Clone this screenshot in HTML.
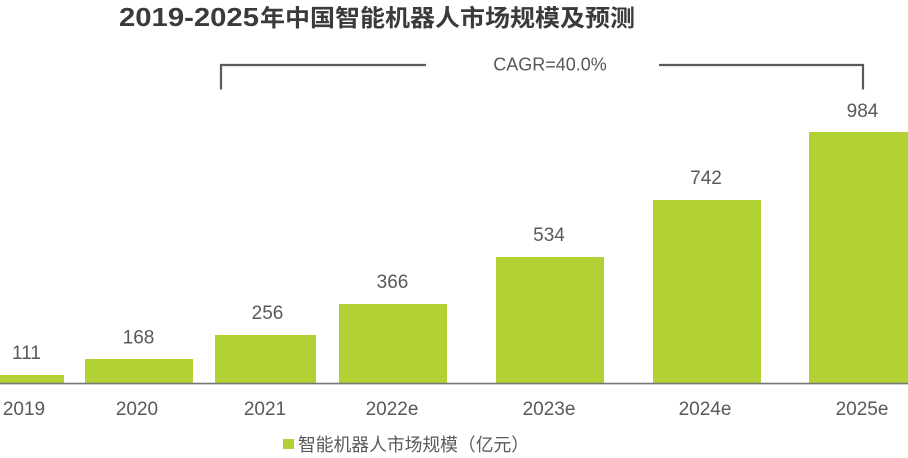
<!DOCTYPE html>
<html>
<head>
<meta charset="utf-8">
<style>
  html, body { margin: 0; padding: 0; background: #ffffff; }
  body { width: 908px; height: 458px; overflow: hidden; }
  svg { display: block; }
  text { font-family: "Liberation Sans", "Noto Sans CJK SC", sans-serif; }
</style>
</head>
<body>
<svg width="908" height="458" viewBox="0 0 908 458" xmlns="http://www.w3.org/2000/svg">
  <rect x="0" y="0" width="908" height="458" fill="#ffffff"/>

  <!-- Title -->
  <text x="119" y="26" font-size="26" font-weight="bold" fill="#3b3b3b" textLength="140" lengthAdjust="spacingAndGlyphs">2019-2025</text>
  <text x="260" y="26" font-size="23.5" font-weight="bold" fill="#3b3b3b" font-family="'Noto Sans CJK SC', sans-serif" textLength="375" lengthAdjust="spacingAndGlyphs">年中国智能机器人市场规模及预测</text>

  <!-- CAGR bracket -->
  <polyline points="221,89.5 221,65 426,65" fill="none" stroke="#5a5a5a" stroke-width="2.2"/>
  <polyline points="659,65 863,65 863,89.5" fill="none" stroke="#5a5a5a" stroke-width="2.2"/>
  <text x="550" y="70.5" font-size="18" fill="#595959" text-anchor="middle">CAGR=40.0%</text>

  <!-- Bars -->
  <g fill="#b2d234">
    <rect x="-40" y="375" width="104" height="8"/>
    <rect x="85" y="359" width="108" height="24"/>
    <rect x="215" y="335" width="101" height="48"/>
    <rect x="339" y="304" width="108" height="79"/>
    <rect x="496" y="257" width="108" height="126"/>
    <rect x="653" y="200" width="108" height="183"/>
    <rect x="809" y="132" width="110" height="251"/>
  </g>

  <!-- Axis -->
  <line x1="0" y1="383.6" x2="908" y2="383.6" stroke="#767676" stroke-width="1.6"/>

  <!-- Value labels -->
  <g font-size="19" fill="#595959" text-anchor="middle">
    <text x="26.5" y="359">111</text>
    <text x="138.5" y="343.5">168</text>
    <text x="267.5" y="319">256</text>
    <text x="392.5" y="288">366</text>
    <text x="549" y="241">534</text>
    <text x="706" y="184">742</text>
    <text x="862.5" y="117">984</text>
  </g>

  <!-- Category labels -->
  <g font-size="19" fill="#595959" text-anchor="middle">
    <text x="24" y="415">2019</text>
    <text x="137" y="415">2020</text>
    <text x="265" y="415">2021</text>
    <text x="392" y="415">2022e</text>
    <text x="549" y="415">2023e</text>
    <text x="705" y="415">2024e</text>
    <text x="862" y="415">2025e</text>
  </g>

  <!-- Legend -->
  <rect x="283" y="439" width="11" height="10" fill="#b2d234"/>
  <text x="298" y="451" font-size="18" fill="#595959" font-family="'Noto Sans CJK SC', sans-serif" textLength="231" lengthAdjust="spacingAndGlyphs">智能机器人市场规模（亿元）</text>
</svg>
</body>
</html>
